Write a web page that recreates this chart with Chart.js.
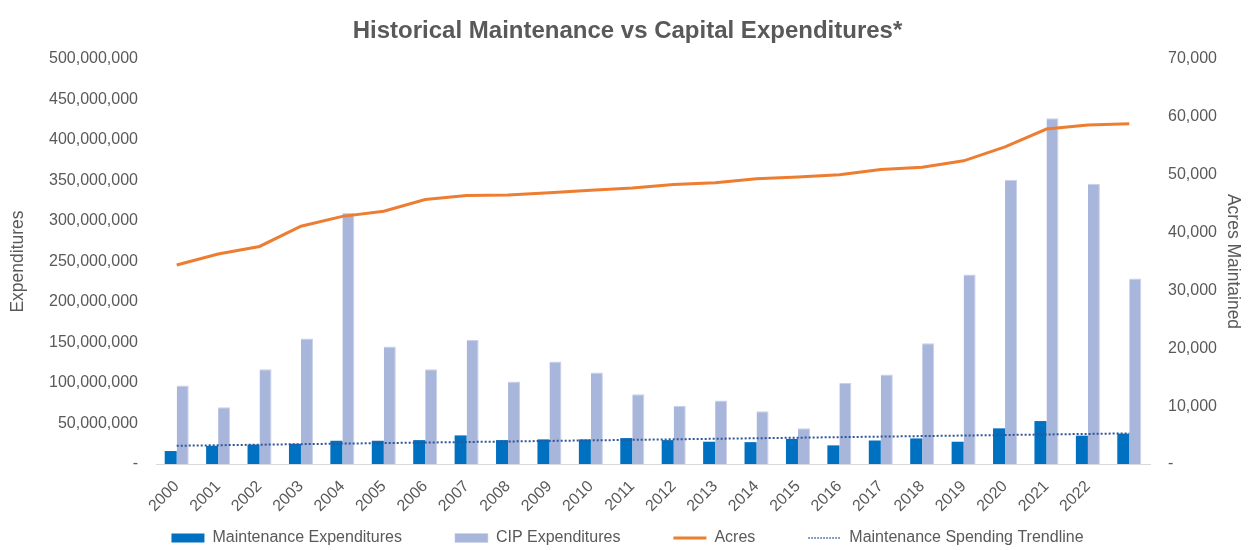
<!DOCTYPE html>
<html>
<head>
<meta charset="utf-8">
<script src="https://cdn.jsdelivr.net/npm/chart.js@4"></script>
<style>
  html, body { margin: 0; padding: 0; background: #fff; }
  canvas { display: block; }
</style>
</head>
<body>
<canvas id="chart" width="1255" height="550"></canvas>
<script>
// years on the category axis (the last bar group has no label in the source)
const years = ['2000', '2001', '2002', '2003', '2004', '2005', '2006', '2007', '2008', '2009', '2010', '2011',
               '2012', '2013', '2014', '2015', '2016', '2017', '2018', '2019', '2020', '2021', '2022', ''];

// dollars
const maintenance = [16e6, 22.5e6, 24e6, 25e6, 28.7e6, 28.7e6, 29.5e6, 35.3e6, 29.5e6, 30.4e6, 30.4e6, 32e6,
                     29.5e6, 27.5e6, 27e6, 31e6, 23e6, 29e6, 31.6e6, 27.5e6, 44e6, 53e6, 35e6, 37.5e6];
const cip = [97e6, 70e6, 117e6, 155e6, 310e6, 145e6, 117e6, 153e6, 102e6, 126.5e6, 113e6, 86e6,
             72e6, 78.5e6, 65e6, 44e6, 100e6, 110.5e6, 149e6, 234e6, 351e6, 427e6, 346e6, 229e6];

// acres maintained
const acres = [34400, 36300, 37600, 41100, 42800, 43700, 45700, 46400, 46500, 46900, 47300, 47700,
               48300, 48600, 49300, 49600, 50000, 50900, 51300, 52400, 54800, 57900, 58600, 58800];

// trendline, only its two end points
const trend = [22.5e6, null, null, null, null, null, null, null, null, null, null, null,
               null, null, null, null, null, null, null, null, null, null, null, 37.8e6];

const grey = '#595959';
Chart.defaults.font.family = "'Liberation Sans', Arial, sans-serif";
Chart.defaults.color = grey;

const dash = v => v === 0 ? '-' : v.toLocaleString('en-US');

// the legend needs wide gaps between items (padding) but has to sit close under the rotated years
const legendLift = {
    id: 'legendLift',
    afterLayout(chart) {
        chart.legend.top -= 39;
        chart.legend.bottom -= 39;
    }
};

new Chart(document.getElementById('chart').getContext('2d'), {
    data: {
        labels: years,
        datasets: [
            {
                type: 'bar',
                label: 'Maintenance Expenditures',
                data: maintenance,
                backgroundColor: '#0070C0',
                yAxisID: 'y',
                categoryPercentage: 0.58,
                barPercentage: 1,
                order: 2
            },
            {
                type: 'bar',
                label: 'CIP Expenditures',
                data: cip,
                backgroundColor: '#A9B6DB',
                borderColor: '#C8D1EA',
                borderWidth: { right: 1, top: 1 },
                yAxisID: 'y',
                categoryPercentage: 0.58,
                barPercentage: 1,
                order: 2
            },
            {
                type: 'line',
                label: 'Acres',
                data: acres,
                borderColor: '#ED7D31',
                backgroundColor: '#ED7D31',
                borderWidth: 3,
                pointRadius: 0,
                tension: 0,
                yAxisID: 'y1',
                order: 0
            },
            {
                type: 'line',
                label: 'Maintenance Spending Trendline',
                data: trend,
                borderColor: '#2F5597',
                backgroundColor: '#2F5597',
                borderWidth: 2,
                borderDash: [2, 2],
                pointRadius: 0,
                spanGaps: true,
                yAxisID: 'y',
                order: 1
            }
        ]
    },
    options: {
        responsive: false,
        animation: false,
        layout: { padding: { left: 0, right: 0, top: 0, bottom: -45 } },
        plugins: {
            title: {
                display: true,
                text: 'Historical Maintenance vs Capital Expenditures*',
                color: grey,
                font: { size: 24, weight: 'bold' },
                padding: { top: 16.6, bottom: 13.6 }
            },
            legend: {
                position: 'bottom',
                labels: {
                    usePointStyle: true,
                    pointStyleWidth: 33,
                    boxHeight: 9,
                    padding: 53,
                    color: grey,
                    font: { size: 16 },
                    sort: (a, b) => a.datasetIndex - b.datasetIndex,
                    generateLabels: chart => {
                        const items = Chart.defaults.plugins.legend.labels.generateLabels(chart);
                        items.forEach(it => {
                            const ds = chart.data.datasets[it.datasetIndex];
                            if (ds.type === 'line') {
                                it.pointStyle = 'line';
                                it.lineWidth = ds.borderDash ? 1.5 : ds.borderWidth;
                                it.lineDash = ds.borderDash ? [1.5, 1.5] : [];
                                it.strokeStyle = ds.borderColor;
                            } else {
                                it.pointStyle = 'rect';
                            }
                        });
                        return items;
                    }
                }
            },
            tooltip: { enabled: false }
        },
        scales: {
            x: {
                grid: { display: false },
                border: { display: true, color: '#D9D9D9', width: 1 },
                ticks: { autoSkip: false, maxRotation: 45, minRotation: 45, padding: 5, font: { size: 16 } },
                afterFit: s => { s.height = 52; }
            },
            y: {
                position: 'left',
                min: 0,
                max: 500000000,
                grid: { display: false },
                border: { display: false },
                ticks: { stepSize: 50000000, padding: 10, font: { size: 16 }, callback: dash },
                title: { display: true, text: 'Expenditures', font: { size: 17.5 }, padding: { top: 8, bottom: 0 } },
                afterFit: s => { s.width = 156; }
            },
            y1: {
                position: 'right',
                min: 0,
                max: 70000,
                grid: { display: false },
                border: { display: false },
                ticks: { stepSize: 10000, padding: 10, font: { size: 16 }, callback: dash },
                title: { display: true, text: 'Acres Maintained', font: { size: 17.5 }, padding: { top: 12, bottom: 0 } },
                afterFit: s => { s.width = 105; }
            }
        }
    },
    plugins: [legendLift]
});
</script>
</body>
</html>
